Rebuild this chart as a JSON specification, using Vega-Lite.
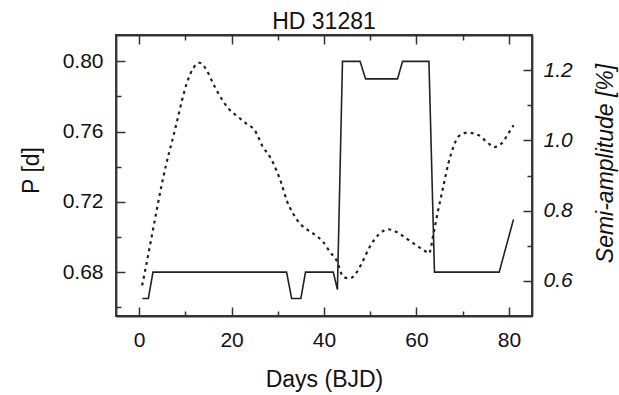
{
  "$schema": "https://vega.github.io/schema/vega-lite/v6.json",
  "width": 416,
  "height": 281,
  "autosize": {"type": "none"},
  "padding": {"left": 116, "top": 35, "right": 87, "bottom": 79},
  "background": "white",
  "title": {"text": "HD 31281", "anchor": "middle", "baseline": "alphabetic", "offset": 5, "dy": 23, "fontSize": 23, "font": "Liberation Sans", "fontWeight": "normal", "color": "#111"},
  "config": {
    "view": {"stroke": "#333", "strokeWidth": 1.8},
    "axis": {
      "grid": false,
      "minExtent": 0,
      "tickSize": -9,
      "tickWidth": 1.5,
      "tickColor": "#333",
      "domainColor": "#333",
      "domainWidth": 1.8,
      "labelFont": "Liberation Sans",
      "labelFontSize": 21,
      "labelColor": "#111",
      "titleFont": "Liberation Sans",
      "titleFontSize": 23,
      "titleFontWeight": "normal",
      "titleColor": "#111"
    }
  },
  "datasets": {
    "period": [
      {"day": 0.7, "P": 0.665}, {"day": 2.0, "P": 0.665}, {"day": 3.0, "P": 0.68},
      {"day": 31.9, "P": 0.68}, {"day": 33.0, "P": 0.665}, {"day": 35.0, "P": 0.665},
      {"day": 36.0, "P": 0.68}, {"day": 42.0, "P": 0.68}, {"day": 42.9, "P": 0.67},
      {"day": 44.0, "P": 0.80}, {"day": 47.8, "P": 0.80}, {"day": 49.0, "P": 0.79},
      {"day": 55.9, "P": 0.79}, {"day": 57.0, "P": 0.80}, {"day": 62.7, "P": 0.80},
      {"day": 63.9, "P": 0.68}, {"day": 77.9, "P": 0.68}, {"day": 81.0, "P": 0.71}
    ],
    "amplitude": [
      {"day": 0.65, "A": 0.587}, {"day": 1.6, "A": 0.649}, {"day": 2.7, "A": 0.725},
      {"day": 3.8, "A": 0.801}, {"day": 4.8, "A": 0.868}, {"day": 5.9, "A": 0.934},
      {"day": 7.0, "A": 0.991}, {"day": 8.1, "A": 1.048}, {"day": 9.2, "A": 1.110},
      {"day": 10.3, "A": 1.162}, {"day": 11.7, "A": 1.205}, {"day": 13.0, "A": 1.221},
      {"day": 14.6, "A": 1.200}, {"day": 16.0, "A": 1.162}, {"day": 17.1, "A": 1.135},
      {"day": 19.3, "A": 1.091}, {"day": 21.4, "A": 1.067}, {"day": 23.2, "A": 1.048},
      {"day": 25.0, "A": 1.029}, {"day": 26.8, "A": 0.981}, {"day": 28.3, "A": 0.953},
      {"day": 29.7, "A": 0.915}, {"day": 30.8, "A": 0.877}, {"day": 31.9, "A": 0.830},
      {"day": 33.3, "A": 0.792}, {"day": 34.8, "A": 0.763}, {"day": 36.6, "A": 0.744},
      {"day": 38.7, "A": 0.725}, {"day": 39.8, "A": 0.711}, {"day": 41.3, "A": 0.682},
      {"day": 42.7, "A": 0.659}, {"day": 44.2, "A": 0.611}, {"day": 45.6, "A": 0.607},
      {"day": 47.1, "A": 0.625}, {"day": 48.5, "A": 0.659}, {"day": 49.9, "A": 0.697},
      {"day": 51.7, "A": 0.730}, {"day": 53.9, "A": 0.747}, {"day": 55.7, "A": 0.739},
      {"day": 57.9, "A": 0.720}, {"day": 60.0, "A": 0.701}, {"day": 62.2, "A": 0.682},
      {"day": 62.7, "A": 0.678}, {"day": 63.7, "A": 0.735}, {"day": 64.7, "A": 0.801},
      {"day": 65.8, "A": 0.868}, {"day": 66.9, "A": 0.934}, {"day": 68.0, "A": 0.981},
      {"day": 69.0, "A": 1.010}, {"day": 71.1, "A": 1.022}, {"day": 73.4, "A": 1.015},
      {"day": 75.2, "A": 0.996}, {"day": 76.8, "A": 0.981}, {"day": 78.4, "A": 0.991},
      {"day": 79.9, "A": 1.020}, {"day": 81.0, "A": 1.043}
    ]
  },
  "layer": [
    {
      "data": {"name": "period"},
      "mark": {"type": "line", "color": "#222", "strokeWidth": 1.6},
      "encoding": {
        "x": {
          "field": "day", "type": "quantitative",
          "scale": {"domain": [-5, 85], "nice": false, "zero": false},
          "axis": {
            "orient": "bottom",
            "values": [0, 20, 40, 60, 80],
            "labelPadding": 22,
            "title": "Days (BJD)",
            "titleY": 70,
            "titleBaseline": "alphabetic"
          }
        },
        "y": {
          "field": "P", "type": "quantitative",
          "scale": {"domain": [0.655, 0.815], "nice": false, "zero": false},
          "axis": {
            "orient": "left",
            "values": [0.68, 0.72, 0.76, 0.80],
            "format": ".2f",
            "labelPadding": 22,
            "title": "P [d]",
            "titleX": -85,
            "titleY": 135,
            "titleAngle": -90,
            "titleAlign": "center",
            "titleBaseline": "middle"
          }
        }
      }
    },
    {
      "data": {"name": "amplitude"},
      "mark": {"type": "line", "color": "#222", "strokeWidth": 2.2, "strokeDash": [3, 4], "interpolate": "monotone"},
      "encoding": {
        "x": {
          "field": "day", "type": "quantitative",
          "axis": {
            "orient": "top",
            "values": [0, 20, 40, 60, 80],
            "labels": false,
            "title": null
          }
        },
        "y": {
          "field": "A", "type": "quantitative",
          "scale": {"domain": [0.5, 1.3], "nice": false, "zero": false},
          "axis": {
            "orient": "right",
            "values": [0.6, 0.8, 1.0, 1.2],
            "format": ".1f",
            "labelFontStyle": "italic",
            "labelPadding": 20,
            "title": "Semi-amplitude [%]",
            "titleFontStyle": "italic",
            "titleX": 73,
            "titleY": 128,
            "titleAngle": -90,
            "titleAlign": "center",
            "titleBaseline": "middle"
          }
        }
      }
    },
    {
      "data": {"name": "period"},
      "mark": {"type": "line", "strokeOpacity": 0},
      "encoding": {
        "x": {
          "field": "day", "type": "quantitative",
          "axis": {"orient": "bottom", "values": [10, 30, 50, 70], "tickSize": -5, "labels": false, "domain": false, "title": null}
        },
        "y": {
          "field": "P", "type": "quantitative",
          "scale": {"domain": [0.655, 0.815], "nice": false, "zero": false},
          "axis": {"orient": "left", "values": [0.66, 0.70, 0.74, 0.78], "tickSize": -5, "labels": false, "domain": false, "title": null}
        }
      }
    },
    {
      "data": {"name": "amplitude"},
      "mark": {"type": "line", "strokeOpacity": 0},
      "encoding": {
        "x": {
          "field": "day", "type": "quantitative",
          "axis": {"orient": "top", "values": [10, 30, 50, 70], "tickSize": -5, "labels": false, "domain": false, "title": null}
        },
        "y": {
          "field": "A", "type": "quantitative",
          "scale": {"domain": [0.5, 1.3], "nice": false, "zero": false},
          "axis": {"orient": "right", "values": [0.7, 0.9, 1.1], "tickSize": -5, "labels": false, "domain": false, "title": null}
        }
      }
    }
  ],
  "resolve": {"scale": {"y": "independent"}, "axis": {"x": "independent", "y": "independent"}}
}
